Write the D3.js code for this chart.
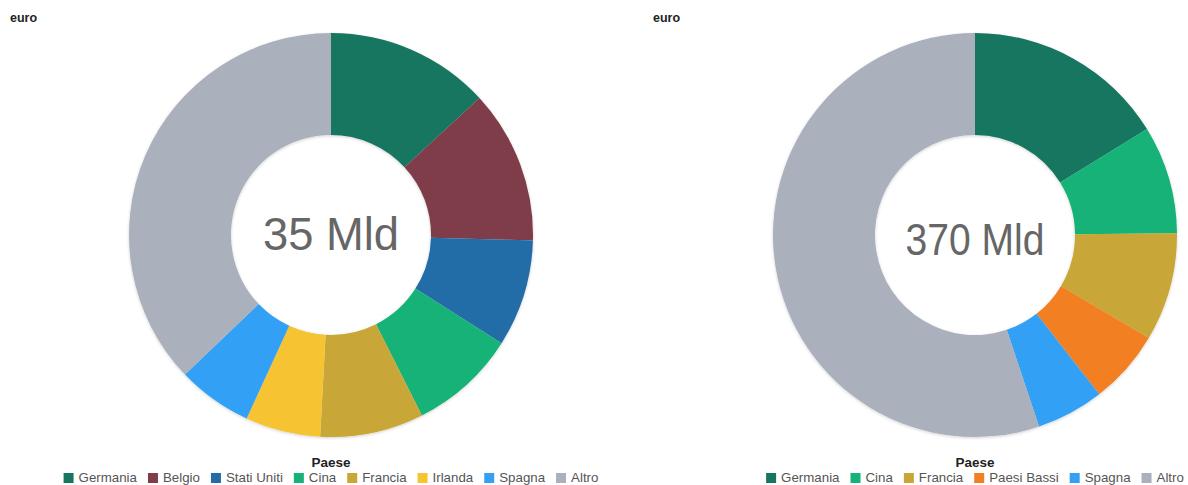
<!DOCTYPE html>
<html>
<head>
<meta charset="utf-8">
<script src="https://cdn.jsdelivr.net/npm/d3@7"></script>
<style>
  html, body { margin: 0; padding: 0; background: #fff; }
  svg { display: block; font-family: "Liberation Sans", Arial, sans-serif; }
</style>
</head>
<body>
<svg id="chart" width="1188" height="485"></svg>
<script>
// ---- Data ----
const unitLabel = "euro";
const legendTitle = "Paese";

const leftCategories = ["Germania", "Belgio", "Stati Uniti", "Cina", "Francia", "Irlanda", "Spagna", "Altro"];
const leftValues     = [4.6, 4.3, 3.0, 3.0, 2.9, 2.1, 2.1, 13.0];
const leftTotalLabel = "35 Mld";

const rightCategories = ["Germania", "Cina", "Francia", "Paesi Bassi", "Spagna", "Altro"];
const rightValues     = [60, 32, 32, 22, 20, 204];
const rightTotalLabel = "370 Mld";

const colorDomain = ["Germania", "Belgio", "Stati Uniti", "Cina", "Francia", "Irlanda", "Paesi Bassi", "Spagna", "Altro"];
const colorRange  = ["#177660", "#7f3d4a", "#236ca8", "#16b278", "#c8a737", "#f6c431", "#f28023", "#33a0f5", "#aab0bc"];

// ---- Rendering ----
const svg = d3.select("#chart");
const color = d3.scaleOrdinal().domain(colorDomain).range(colorRange);

const defs = svg.append("defs");
const filt = defs.append("filter").attr("id", "shadow")
  .attr("x", "-10%").attr("y", "-10%").attr("width", "120%").attr("height", "120%");
filt.append("feDropShadow").attr("dx", 0).attr("dy", 1).attr("stdDeviation", 1.5)
  .attr("flood-color", "#000").attr("flood-opacity", 0.18);

function drawPanel(cfg) {
  const g = svg.append("g");
  g.append("text")
    .attr("x", cfg.titleX).attr("y", 22)
    .attr("font-size", 12.5).attr("font-weight", "bold").attr("fill", "#222")
    .text(unitLabel);

  const pie = d3.pie().sort(null).value(d => d.v);
  const arcs = pie(cfg.cats.map((c, i) => ({ c, v: cfg.vals[i] })));
  const arc = d3.arc().innerRadius(cfg.ri).outerRadius(cfg.ro);

  const dg = g.append("g").attr("transform", `translate(${cfg.cx},${cfg.cy})`)
    .attr("filter", "url(#shadow)");
  dg.selectAll("path").data(arcs).join("path")
    .attr("d", arc)
    .attr("fill", d => color(d.data.c));

  const t = g.append("text")
    .attr("x", cfg.cx).attr("y", cfg.cy + cfg.textDy)
    .attr("text-anchor", "middle").attr("dominant-baseline", "central")
    .attr("font-size", cfg.fs).attr("fill", "#666")
    .text(cfg.total);
  if (cfg.textLen) t.attr("textLength", cfg.textLen).attr("lengthAdjust", "spacingAndGlyphs");

  // Legend
  g.append("text")
    .attr("x", cfg.cx).attr("y", 467)
    .attr("text-anchor", "middle")
    .attr("font-size", 13.5).attr("font-weight", "bold").attr("fill", "#222")
    .text(legendTitle);

  const lg = g.append("g");
  const items = lg.selectAll("g").data(cfg.cats).join("g");
  items.append("rect").attr("width", 10).attr("height", 10).attr("y", -9)
    .attr("fill", d => color(d));
  items.append("text").attr("x", 15).attr("y", 0)
    .attr("font-size", 13.3).attr("fill", "#555")
    .text(d => d);
  const gap = 11;
  let x = 0;
  items.each(function () {
    const w = this.querySelector("text").getComputedTextLength();
    d3.select(this).attr("transform", `translate(${x},482)`);
    x += 15 + w + gap;
  });
  const total = x - gap;
  lg.attr("transform", `translate(${cfg.cx - total / 2},0)`);
}

drawPanel({ titleX: 10, cx: 331, cy: 235, ro: 202, ri: 100, fs: 46, textDy: -1, textLen: 136,
  cats: leftCategories, vals: leftValues, total: leftTotalLabel });
drawPanel({ titleX: 653, cx: 975, cy: 235, ro: 202, ri: 100, fs: 45, textDy: 4, textLen: 139,
  cats: rightCategories, vals: rightValues, total: rightTotalLabel });
</script>
</body>
</html>
